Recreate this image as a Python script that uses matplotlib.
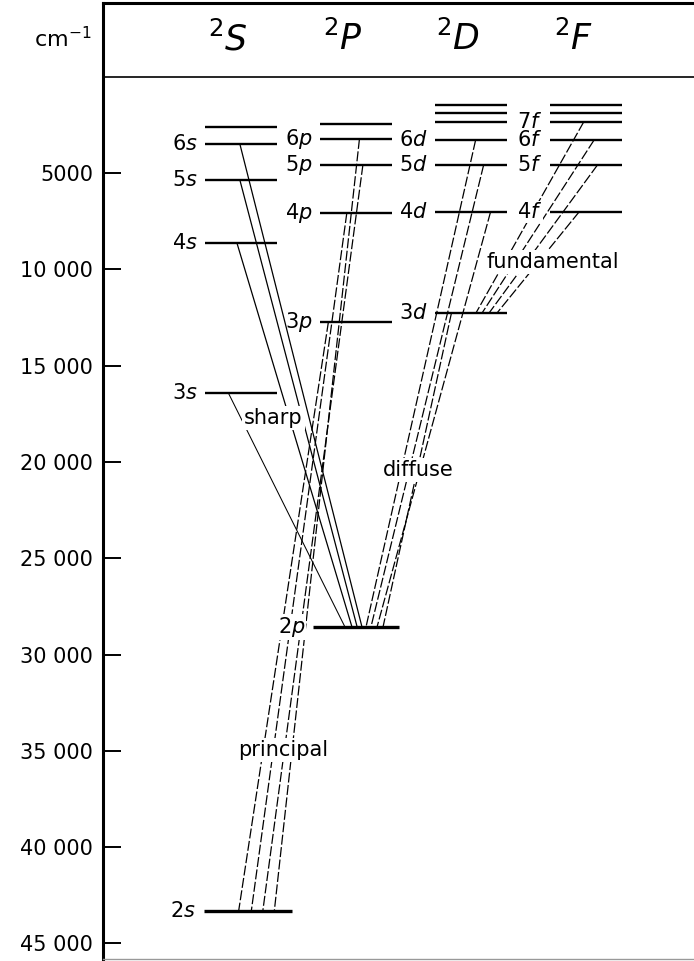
import matplotlib
matplotlib.use("Agg")
import matplotlib.pyplot as plt

# term values (cm^-1 below the ionisation limit)
s_terms = ["2s", "3s", "4s", "5s", "6s", "7s"]
s_values = [43300, 16420, 8640, 5360, 3490, 2610]
p_terms = ["2p", "3p", "4p", "5p", "6p", "7p"]
p_values = [28570, 12730, 7080, 4580, 3230, 2460]
d_terms = ["3d", "4d", "5d", "6d", "7d", "8d", "9d"]
d_values = [12270, 7020, 4580, 3290, 2350, 1880, 1470]
f_terms = ["4f", "5f", "6f", "7f", "8f", "9f"]
f_values = [7020, 4580, 3290, 2350, 1880, 1470]

columns = ["$^2S$", "$^2P$", "$^2D$", "$^2F$"]
labelled_terms = ["2s", "3s", "4s", "5s", "6s",
                  "2p", "3p", "4p", "5p", "6p",
                  "3d", "4d", "5d", "6d",
                  "4f", "5f", "6f", "7f"]

principal = [("2s", "3p"), ("2s", "4p"), ("2s", "5p"), ("2s", "6p")]
sharp = [("3s", "2p"), ("4s", "2p"), ("5s", "2p"), ("6s", "2p")]
diffuse = [("3d", "2p"), ("4d", "2p"), ("5d", "2p"), ("6d", "2p")]
fundamental = [("4f", "3d"), ("5f", "3d"), ("6f", "3d"), ("7f", "3d")]

tick_values = [5000, 10000, 15000, 20000, 25000, 30000, 35000, 40000, 45000]
tick_labels = ["5000", "10 000", "15 000", "20 000", "25 000",
               "30 000", "35 000", "40 000", "45 000"]

# layout: where each transition meets its two levels (column units)
OFFSETS = {
    "principal": ([-0.02, 0.09, 0.19, 0.29], [-0.24, -0.08, 0.06, 0.03]),
    "sharp": ([-0.11, -0.035, -0.01, -0.01], [-0.096, -0.035, 0.01, 0.052]),
    "diffuse": ([-0.17, 0.17, 0.11, 0.04], [0.235, 0.183, 0.13, 0.087]),
    "fundamental": ([-0.06, 0.10, 0.07, -0.02], [0.226, 0.157, 0.096, 0.043]),
}
HALF = 0.31
WIDE = {"2s": (-0.32, 0.44), "2p": (-0.37, 0.37)}
BOXED = ["2p", "4f"]  # labels that break the lines running behind them
FS = 15


def main() -> None:
    plt.rcParams["font.family"] = ["DejaVu Sans"]
    plt.rcParams["mathtext.fontset"] = "dejavusans"

    levels = {}
    for col, (terms, values) in enumerate(
        [(s_terms, s_values), (p_terms, p_values),
         (d_terms, d_values), (f_terms, f_values)]
    ):
        for term, value in zip(terms, values):
            levels[term] = (col, value)

    fig = plt.figure(figsize=(6.94, 9.61), dpi=100)
    ax = fig.add_axes([103 / 694, 2 / 961, 591 / 694, 956 / 961])
    ax.set_xlim(-1.2, -1.2 + 591 / 115)
    ax.set_ylim(45810, -3827)

    label_box = dict(facecolor="white", edgecolor="none", pad=1.5)
    term_box = dict(facecolor="white", edgecolor="none", pad=0.8)

    # energy levels
    for term, (col, value) in levels.items():
        lo, hi = WIDE.get(term, (-HALF, HALF))
        lw = 2.4 if term in WIDE else 1.7
        ax.plot([col + lo, col + hi], [value, value], color="black",
                lw=lw, solid_capstyle="butt", zorder=3)
        if term in labelled_terms:
            ax.text(col + lo - 0.07, value, f"{term[0]}${term[1]}$",
                    ha="right", va="center", fontsize=FS, zorder=4,
                    bbox=term_box if term in BOXED else None)

    # transitions
    styles = {
        "principal": dict(lw=0.9, dashes=(8, 2)),
        "sharp": dict(lw=0.9),
        "diffuse": dict(lw=0.9, dashes=(8, 2)),
        "fundamental": dict(lw=0.9, dashes=(8, 2)),
    }
    series = {"principal": principal, "sharp": sharp,
              "diffuse": diffuse, "fundamental": fundamental}
    for name, pairs in series.items():
        upper_off, lower_off = OFFSETS[name]
        for i, (a, b) in enumerate(pairs):
            # principal pairs are listed lower state first
            if name == "principal":
                low, up = a, b
                lo_x, up_x = upper_off[i], lower_off[i]
            else:
                up, low = a, b
                up_x, lo_x = upper_off[i], lower_off[i]
            c1, v1 = levels[up]
            c2, v2 = levels[low]
            style = dict(styles[name])
            if name == "sharp" and up == "3s":
                style["lw"] = 0.75
            ax.plot([c1 + up_x, c2 + lo_x], [v1, v2], color="black",
                    zorder=2, **style)

    ax.text(0.28, 17700, "sharp", ha="center", va="center", fontsize=FS,
            bbox=label_box, zorder=4)
    ax.text(0.365, 34950, "principal", ha="center", va="center",
            fontsize=FS, bbox=label_box, zorder=4)
    ax.text(1.54, 20400, "diffuse", ha="center", va="center", fontsize=FS,
            bbox=label_box, zorder=4)
    ax.text(2.71, 9600, "fundamental", ha="center", va="center",
            fontsize=FS, bbox=label_box, zorder=4)

    # header with term symbols
    for col, name in enumerate(columns):
        ax.text(col - 0.11, -1950, name, ha="center", va="center",
                fontsize=25)
    ax.axhline(0, color="black", lw=1.2)
    ax.text(-1.3, -2000, "cm$^{-1}$", ha="right", va="center",
            fontsize=FS + 1, clip_on=False)

    ax.set_yticks(tick_values)
    ax.set_yticklabels(tick_labels)
    ax.set_xticks([])
    ax.tick_params(axis="y", direction="in", length=13, width=1.4,
                   pad=7, labelsize=FS)
    ax.spines["right"].set_visible(False)
    ax.spines["left"].set_linewidth(2.2)
    ax.spines["top"].set_linewidth(2.2)
    ax.spines["bottom"].set_color("0.6")
    ax.spines["bottom"].set_linewidth(1.0)

    fig.savefig("out.png", dpi=100)
    plt.close(fig)


if __name__ == "__main__":
    main()
